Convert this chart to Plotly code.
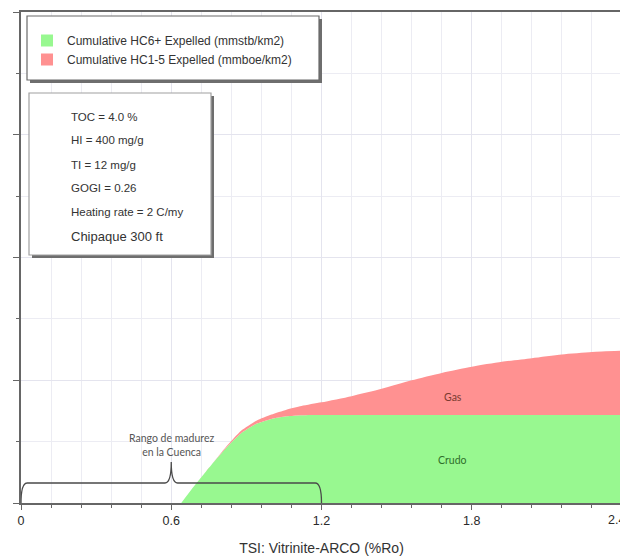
import plotly.graph_objects as go

# ---------------- data ----------------
ro = [0.64, 0.70, 0.76, 0.82, 0.88, 0.94, 1.00, 1.06, 1.12, 1.20, 1.32,
      1.44, 1.56, 1.68, 1.80, 1.92, 2.04, 2.16, 2.28, 2.40]
oil_hc6 = [0, 0.16, 0.31, 0.45, 0.57, 0.645, 0.685, 0.706, 0.715, 0.717, 0.717,
           0.717, 0.717, 0.717, 0.717, 0.717, 0.717, 0.717, 0.717, 0.717]
gas_hc1_5 = [0, 0, 0, 0.01, 0.02, 0.025, 0.035, 0.054, 0.075, 0.103, 0.153,
             0.213, 0.283, 0.343, 0.393, 0.433, 0.463, 0.493, 0.513, 0.523]

series_names = ["Cumulative HC6+ Expelled (mmstb/km2)",
                "Cumulative HC1-5 Expelled (mmboe/km2)"]
x_ticks = [0, 0.6, 1.2, 1.8, 2.4]
x_tick_labels = ["0", "0.6", "1.2", "1.8", "2.4"]

info_lines = ["TOC = 4.0 %", "HI = 400 mg/g", "TI = 12 mg/g", "GOGI = 0.26",
              "Heating rate = 2 C/my", "Chipaque 300 ft"]

# maturity bracket (x range and peak) and labels
bracket_range = [0.0, 1.2]
bracket_peak = 0.6
bracket_level = 0.163
bracket_tip = 0.334
bracket_label = "Rango de madurez<br>en la Cuenca"
zone_labels = ["Gas", "Crudo"]
zone_label_x = [1.724, 1.724]
zone_label_y = [0.86, 0.35]

GREEN = "#98f890"
RED = "#ff9191"
FONT = "Liberation Sans, Arial, sans-serif"
TICK_FONT = dict(family=FONT, size=12.5, color="#2a2a2a")

fig = go.Figure()

fig.add_trace(go.Scatter(x=ro, y=oil_hc6, stackgroup="s", mode="lines",
                         line=dict(width=0, color=GREEN, shape="spline",
                                   smoothing=0.6),
                         fillcolor=GREEN, showlegend=False, hoverinfo="x+y"))
fig.add_trace(go.Scatter(x=ro, y=gas_hc1_5, stackgroup="s", mode="lines",
                         line=dict(width=0, color=RED, shape="spline",
                                   smoothing=0.6),
                         fillcolor=RED, showlegend=False, hoverinfo="x+y"))
# legend entries
for name, col in zip(series_names, [GREEN, RED]):
    fig.add_trace(go.Scatter(x=[None], y=[None], mode="markers", name=name,
                             marker=dict(symbol="square", size=11, color=col)))

# bracket path
a, b = bracket_range
r = 0.025
h = bracket_level
p = bracket_peak
path = (f"M {a},0 Q {a},{h} {a + r},{h} L {p - r},{h} "
        f"Q {p},{h} {p},{bracket_tip} Q {p},{h} {p + r},{h} "
        f"L {b - r},{h} Q {b},{h} {b},0")


# helpers: window-pixel positions -> paper fractions (plot area 21..622, 12..503)
def px_x(v):
    return (v - 21) / 601


def px_y(v):
    return (503 - v) / 491


def box(x0, y0, x1, y1, edge):
    return [
        dict(type="rect", xref="paper", yref="paper", x0=px_x(x0 + 3),
             x1=px_x(x1 + 3), y0=px_y(y1 + 3), y1=px_y(y0 + 3),
             fillcolor="#6e6e6e", line=dict(width=0), layer="above"),
        dict(type="rect", xref="paper", yref="paper", x0=px_x(x0),
             x1=px_x(x1), y0=px_y(y1), y1=px_y(y0), fillcolor="white",
             line=dict(color=edge, width=1.2), layer="above"),
    ]


shapes = [dict(type="path", path=path, xref="x", yref="y",
               line=dict(color="#4a4a4a", width=1.3), layer="above")]
shapes += box(27, 16, 319, 80, "#6a6a6a")
shapes += box(29, 93, 211, 255, "#a0a0a0")

annotations = []
line_y = [117, 140, 165, 188, 212, 237]
for i, (txt, yy) in enumerate(zip(info_lines, line_y)):
    annotations.append(dict(text=txt, xref="paper", yref="paper", x=px_x(69),
                             y=px_y(yy), xanchor="left", yanchor="middle",
                             showarrow=False,
                             font=dict(family=FONT, size=13 if i == 5 else 11.5,
                                       color="#333333")))
annotations.append(dict(text=bracket_label, x=bracket_peak, y=0.47,
                        xref="x", yref="y", showarrow=False,
                        xanchor="center", yanchor="middle",
                        font=dict(family="Lato, sans-serif", size=10.5,
                                  color="#555555")))
for txt, xx, yy, col in zip(zone_labels, zone_label_x, zone_label_y,
                            ["#7a3a30", "#2f6e2a"]):
    annotations.append(dict(text=txt, x=xx, y=yy, xref="x", yref="y",
                            showarrow=False,
                            font=dict(family="Lato, sans-serif", size=10.5,
                                      color=col)))
# last x tick label kept inside the page edge
annotations.append(dict(text=x_tick_labels[-1], x=x_ticks[-1], xref="x",
                        y=0, yref="paper", xanchor="right", yanchor="top",
                        xshift=5, yshift=-8, showarrow=False, font=TICK_FONT))

fig.update_layout(
    width=620, height=550,
    margin=dict(l=13, r=6, t=4, b=55, autoexpand=False),
    paper_bgcolor="white", plot_bgcolor="white",
    font=dict(family=FONT, color="#333333"),
    showlegend=True,
    legend=dict(x=px_x(27), y=px_y(26), xanchor="left", yanchor="top",
                bgcolor="rgba(0,0,0,0)", borderwidth=0,
                traceorder="normal",
                font=dict(family=FONT, size=12, color="#333333"),
                tracegroupgap=2, itemsizing="constant"),
    shapes=shapes, annotations=annotations,
    xaxis=dict(range=[0, 2.4], tickvals=x_ticks,
               ticktext=x_tick_labels[:-1] + [""],
               automargin=False,
               showgrid=True, gridcolor="#e4e4ee", gridwidth=1,
               minor=dict(dtick=0.12, tick0=0, showgrid=True,
                          gridcolor="#ececf3", ticks="outside", ticklen=3,
                          tickcolor="#666666"),
               ticks="outside", ticklen=5, tickcolor="#666666",
               showline=True, linecolor="#666666", linewidth=2, mirror=True,
               zeroline=False,
               tickfont=TICK_FONT,
               title=dict(text="TSI: Vitrinite-ARCO (%Ro)", standoff=16,
                          font=dict(family=FONT, size=14, color="#333333"))),
    yaxis=dict(range=[0, 4], dtick=1, tick0=0, showticklabels=False,
               automargin=False,
               showgrid=True, gridcolor="#e4e4ee",
               minor=dict(dtick=0.5, showgrid=True, gridcolor="#ececf3",
                          ticks="outside", ticklen=3, tickcolor="#666666"),
               ticks="outside", ticklen=6, tickcolor="#666666",
               showline=True, linecolor="#666666", linewidth=2, mirror=True,
               zeroline=False),
)

fig.write_html("out.html")
